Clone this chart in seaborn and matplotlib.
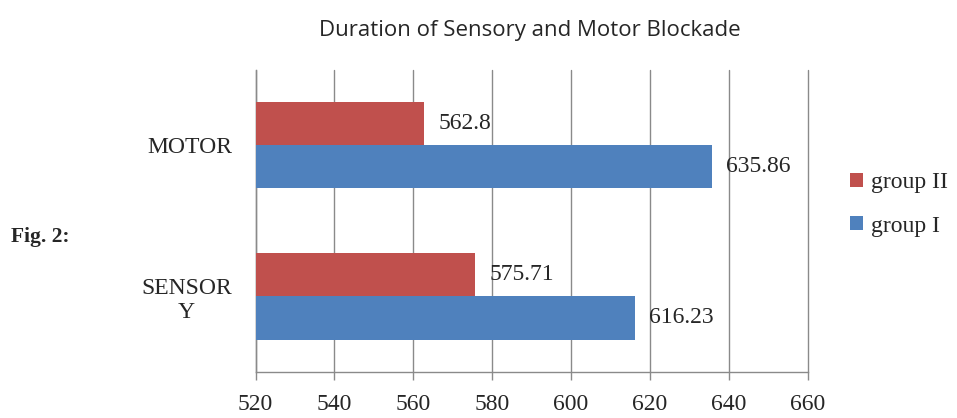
import matplotlib
matplotlib.use("Agg")
import matplotlib.pyplot as plt
import seaborn as sns
import pandas as pd
from matplotlib.ticker import FixedLocator

# values
categories = ["MOTOR", "SENSORY"]
category_labels = ["MOTOR", "SENSOR\nY"]
groups = ["group II", "group I"]
group2_values = [562.8, 575.71]
group1_values = [635.86, 616.23]
value_labels = {"group II": ["562.8", "575.71"], "group I": ["635.86", "616.23"]}
x_ticks = [520, 540, 560, 580, 600, 620, 640, 660]

rows = []
for cat, v2, v1 in zip(categories, group2_values, group1_values):
    rows.append({"block": cat, "group": "group II", "value": v2})
    rows.append({"block": cat, "group": "group I", "value": v1})
df = pd.DataFrame(rows)

sns.set_style("white")
serif = ["Liberation Serif", "DejaVu Serif"]
grid_col = "#8a8a8a"

fig = plt.figure(figsize=(9.57, 4.18), dpi=100)
ax = fig.add_axes([0.267, 0.11, 0.577, 0.723])

sns.barplot(data=df, y="block", x="value", hue="group", order=categories,
            hue_order=groups, palette=["#C0504D", "#4F81BD"], orient="h",
            width=0.57, saturation=1, linewidth=0, ax=ax, zorder=3)

ax.set_xlim(520, 660)
ax.set_xticks(x_ticks)
ax.set_xticklabels([str(t) for t in x_ticks], fontfamily=serif, fontsize=17)
ax.set_yticks(range(len(categories)))
ax.set_yticklabels(category_labels, fontfamily=serif, fontsize=17,
                   multialignment="center")
ax.yaxis.set_minor_locator(FixedLocator([-0.5, 0.5, 1.5]))
ax.tick_params(axis="y", which="major", length=0, pad=17)
ax.tick_params(axis="y", which="minor", length=6, color=grid_col, width=1)
ax.tick_params(axis="x", which="major", length=6, color=grid_col, width=1,
               direction="out", pad=10, bottom=True)
ax.set_xlabel("")
ax.set_ylabel("")

ax.grid(axis="x", color=grid_col, linewidth=1, zorder=0)
ax.set_axisbelow(True)
for gl in ax.get_xgridlines():
    gl.set_clip_on(False)
for side in ["top", "right"]:
    ax.spines[side].set_visible(False)
for side in ["left", "bottom"]:
    ax.spines[side].set_color(grid_col)
    ax.spines[side].set_linewidth(1)

for container, grp in zip(ax.containers, groups):
    ax.bar_label(container, labels=value_labels[grp], padding=10,
                 fontfamily=serif, fontsize=17)

handles, labels = ax.get_legend_handles_labels()
ax.legend(handles, labels, loc="center left", bbox_to_anchor=(1.076, 0.555),
          frameon=False, prop={"family": serif, "size": 17},
          handlelength=0.55, handleheight=0.55, handletextpad=0.35,
          labelspacing=0.95, borderaxespad=0, borderpad=0)

fig.text(0.554, 0.928, "Duration of Sensory and Motor Blockade",
         ha="center", va="center", fontsize=16, fontfamily=["Open Sans", "DejaVu Sans"])
fig.text(0.011, 0.433, "Fig. 2:", ha="left", va="center", fontsize=15.5,
         fontweight="bold", fontfamily=serif)

fig.savefig("out.png", dpi=100)
